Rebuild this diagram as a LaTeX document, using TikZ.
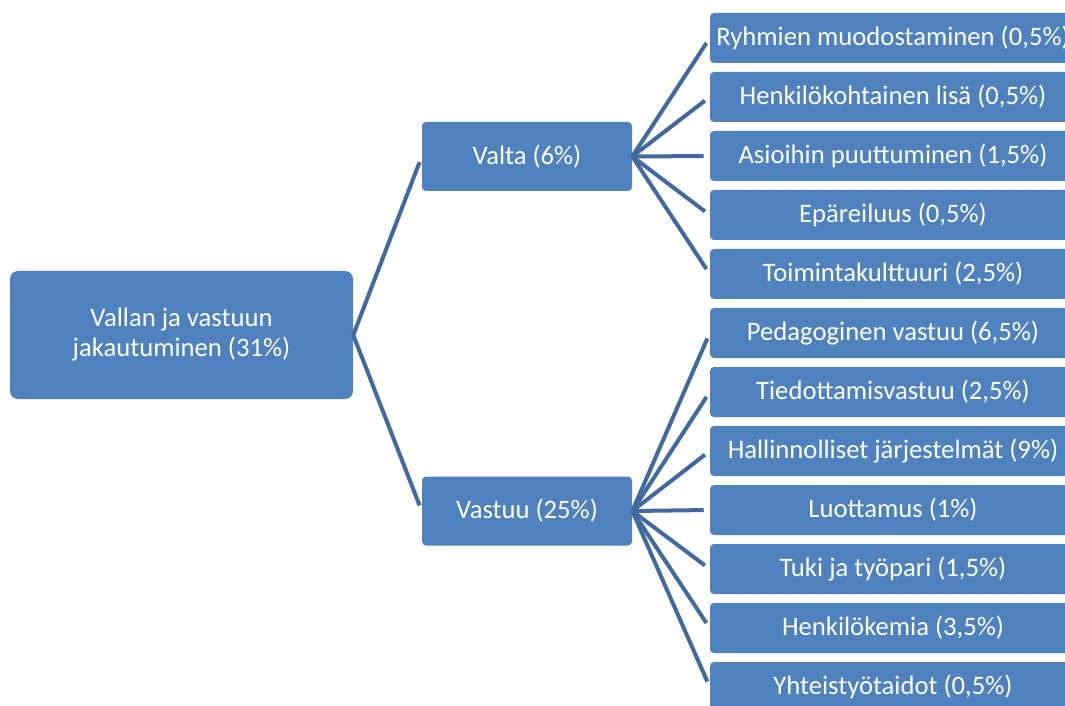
\documentclass[tikz,border=0pt]{standalone}
\usepackage{fontspec}
\setmainfont{Carlito}
\usepackage{tikz}
\usetikzlibrary{calc}
\definecolor{boxblue}{HTML}{4F81BD}
\definecolor{lineblue}{HTML}{41699E}
\tikzset{
	box/.style={draw=none, fill=boxblue, text=white, rounded corners=3pt, inner sep=0pt, align=center, font=\fontsize{20}{22.5}\selectfont},
	topic/.style={box, minimum width=257.25pt, minimum height=96pt, rounded corners=6pt},
	branch/.style={box, minimum width=157.5pt, minimum height=51.75pt},
	leaf/.style={box, minimum width=274.5pt, minimum height=37.5pt},
	link/.style={draw=lineblue, line width=3pt, shorten >=4.5pt}
}
\newcommand{\leafbox}[3] % name, y in px, text
{
	\node[leaf] (#1) at (893,#2) {#3};
}

\begin{document}
\begin{tikzpicture}[x=0.75pt, y=-0.75pt]
	% page: 1065px x 706px
	\useasboundingbox (0,0) rectangle (1065,706);
	\clip (0,0) rectangle (1065,706);
	% main topic
	\node[topic] (vallan) at (181.5,335) {Vallan ja vastuun\\jakautuminen (31\%)};
	% two branches
	\node[branch] (valta) at (527,156.5) {Valta (6\%)};
	\node[branch] (vastuu) at (527,511) {Vastuu (25\%)};
	% leaves of valta
	\leafbox{ryhmien}{38}{Ryhmien muodostaminen (0,5\%)}
	\leafbox{lisa}{97}{Henkilökohtainen lisä (0,5\%)}
	\leafbox{asioihin}{156}{Asioihin puuttuminen (1,5\%)}
	\leafbox{epareiluus}{215}{Epäreiluus (0,5\%)}
	\leafbox{kulttuuri}{274}{Toimintakulttuuri (2,5\%)}
	% leaves of vastuu
	\leafbox{pedagoginen}{333}{Pedagoginen vastuu (6,5\%)}
	\leafbox{tiedottamis}{392}{Tiedottamisvastuu (2,5\%)}
	\leafbox{hallinnolliset}{451}{Hallinnolliset järjestelmät (9\%)}
	\leafbox{luottamus}{510}{Luottamus (1\%)}
	\leafbox{tuki}{569}{Tuki ja työpari (1,5\%)}
	\leafbox{kemia}{628}{Henkilökemia (3,5\%)}
	\leafbox{yhteistyo}{687}{Yhteistyötaidot (0,5\%)}
	% connectors
	\draw[link] (vallan.east) -- (valta.west);
	\draw[link] (vallan.east) -- (vastuu.west);
	\draw[link] (valta.east) -- (ryhmien.west);
	\draw[link] (valta.east) -- (lisa.west);
	\draw[link] (valta.east) -- (asioihin.west);
	\draw[link] (valta.east) -- (epareiluus.west);
	\draw[link] (valta.east) -- (kulttuuri.west);
	\draw[link] (vastuu.east) -- (pedagoginen.west);
	\draw[link] (vastuu.east) -- (tiedottamis.west);
	\draw[link] (vastuu.east) -- (hallinnolliset.west);
	\draw[link] (vastuu.east) -- (luottamus.west);
	\draw[link] (vastuu.east) -- (tuki.west);
	\draw[link] (vastuu.east) -- (kemia.west);
	\draw[link] (vastuu.east) -- (yhteistyo.west);
\end{tikzpicture}
\end{document}
